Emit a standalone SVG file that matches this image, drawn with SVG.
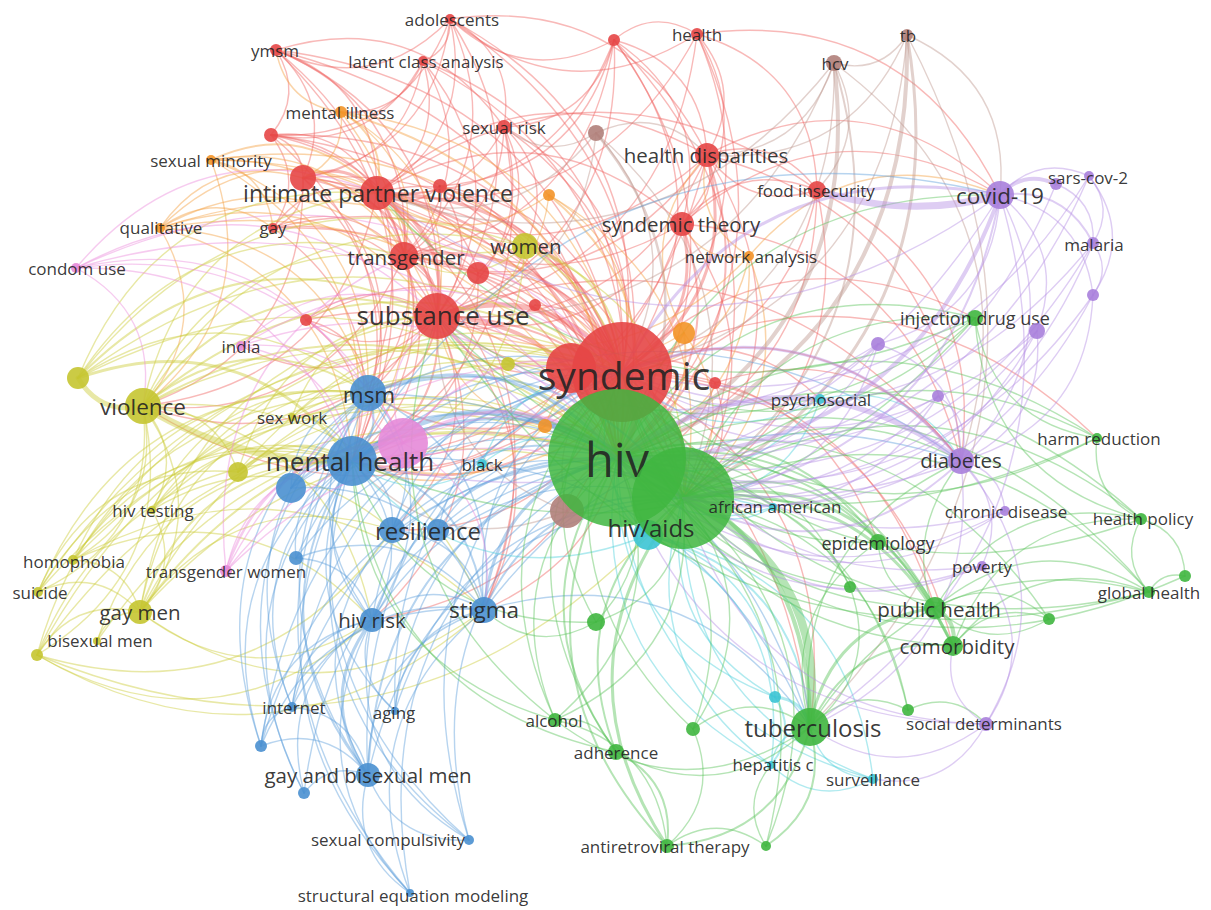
<svg xmlns="http://www.w3.org/2000/svg" width="1211" height="910" viewBox="0 0 1211 910">
<defs>
<path id="k" d="M0 0Q.5 -.36 1 0" fill="none" vector-effect="non-scaling-stroke"/>
<path id="k2" d="M0 0Q.5 -.15 1 0" fill="none" vector-effect="non-scaling-stroke"/>
</defs>
<style>
#edges{fill:none;stroke-opacity:.45;stroke-linecap:round}
.er{stroke:#ef6461}.eo{stroke:#f5a040}.en{stroke:#bf9a90}.ey{stroke:#cccc3a}
.eb{stroke:#5f9fdc}.ek{stroke:#ea8bdc}.ec{stroke:#4fd0dc}.eg{stroke:#5cc45c}.ep{stroke:#b590e4}
.nr{fill:#e64646}.ng{fill:#3fb63f}.nb{fill:#4a90d0}.ny{fill:#c5c531}.np{fill:#a880dc}
.nc{fill:#3cc4d4}.no{fill:#f39428}.nn{fill:#b07f7a}.nk{fill:#e589d8}
text{font-family:"Open Sans","Liberation Sans",sans-serif;fill:#222;text-anchor:middle;dominant-baseline:central}
.l17{font-size:17px}.l18{font-size:18px}.l20{font-size:20.5px}.l22{font-size:22.5px}.l24{font-size:24px}.l26{font-size:26px}.l39{font-size:39px}.l47{font-size:47px}
</style>
<rect width="1211" height="910" fill="#fff"/>
<g id="edges" stroke-width="1.4">
<g class="er">
<use href="#k" transform="matrix(101 143 -143 101 276 50)"/><use href="#k" transform="matrix(161 266 -266 161 276 50)"/><use href="#k" transform="matrix(346 322 -322 346 276 50)"/><use href="#k" transform="matrix(128 206 -206 128 276 50)"/><use href="#k" transform="matrix(27 128 -128 27 276 50)"/><use href="#k" transform="matrix(-5 85 -85 -5 276 50)"/><use href="#k" transform="matrix(341 408 -408 341 276 50)"/><use href="#k" transform="matrix(76 411 -411 76 276 50)"/><use href="#k" transform="matrix(92 343 -343 92 276 50)"/><use href="#k" transform="matrix(228 77 -77 228 276 50)"/>
<use href="#k" transform="matrix(-179 116 -116 -179 450 19)"/><use href="#k" transform="matrix(-73 174 -174 -73 450 19)"/><use href="#k" transform="matrix(-13 297 -297 -13 450 19)"/><use href="#k" transform="matrix(-46 237 -237 -46 450 19)"/><use href="#k" transform="matrix(172 353 -353 172 450 19)"/><use href="#k" transform="matrix(167 439 -439 167 450 19)"/><use href="#k" transform="matrix(-27 42 -42 -27 450 19)"/><use href="#k" transform="matrix(54 108 -108 54 450 19)"/><use href="#k" transform="matrix(257 136 -136 257 450 19)"/><use href="#k" transform="matrix(-147 159 -159 -147 450 19)"/><use href="#k" transform="matrix(-174 31 -31 -174 450 19)"/>
<use href="#k" transform="matrix(-46 132 -132 -46 423 61)"/><use href="#k" transform="matrix(14 255 -255 14 423 61)"/><use href="#k" transform="matrix(199 311 -311 199 423 61)"/><use href="#k" transform="matrix(-19 195 -195 -19 423 61)"/><use href="#k" transform="matrix(194 397 -397 194 423 61)"/><use href="#k" transform="matrix(-120 117 -117 -120 423 61)"/><use href="#k" transform="matrix(-82 51 -51 -82 423 61)"/><use href="#k" transform="matrix(-152 74 -74 -152 423 61)"/>
<use href="#k" transform="matrix(-177 276 -276 -177 614 40)"/><use href="#k" transform="matrix(-237 153 -153 -237 614 40)"/><use href="#k" transform="matrix(8 332 -332 8 614 40)"/><use href="#k" transform="matrix(93 115 -115 93 614 40)"/><use href="#k" transform="matrix(68 184 -184 68 614 40)"/><use href="#k" transform="matrix(-110 87 -87 -110 614 40)"/><use href="#k" transform="matrix(3 418 -418 3 614 40)"/><use href="#k" transform="matrix(83 -6 6 83 614 40)"/><use href="#k" transform="matrix(-210 216 -216 -210 614 40)"/><use href="#k" transform="matrix(-174 146 -146 -174 614 40)"/><use href="#k" transform="matrix(69 458 -458 69 614 40)"/><use href="#k" transform="matrix(-164 -21 21 -164 614 40)"/>
<use href="#k" transform="matrix(10 121 -121 10 697 34)"/><use href="#k" transform="matrix(-15 190 -190 -15 697 34)"/><use href="#k" transform="matrix(-75 338 -338 -75 697 34)"/><use href="#k" transform="matrix(-80 424 -424 -80 697 34)"/><use href="#k" transform="matrix(-260 282 -282 -260 697 34)"/><use href="#k" transform="matrix(120 156 -156 120 697 34)"/><use href="#k" transform="matrix(-320 159 -159 -320 697 34)"/><use href="#k" transform="matrix(303 161 -161 303 697 34)"/><use href="#k" transform="matrix(-247 -15 15 -247 697 34)"/>
<use href="#k" transform="matrix(-127 66 -66 -127 504 127)"/><use href="#k" transform="matrix(-67 189 -189 -67 504 127)"/><use href="#k" transform="matrix(118 245 -245 118 504 127)"/><use href="#k" transform="matrix(113 331 -331 113 504 127)"/><use href="#k" transform="matrix(-100 129 -129 -100 504 127)"/><use href="#k" transform="matrix(-26 146 -146 -26 504 127)"/><use href="#k" transform="matrix(21 119 -119 21 504 127)"/><use href="#k" transform="matrix(-152 334 -334 -152 504 127)"/>
<use href="#k" transform="matrix(106 58 -58 106 271 135)"/><use href="#k" transform="matrix(166 181 -181 166 271 135)"/><use href="#k" transform="matrix(133 121 -121 133 271 135)"/><use href="#k" transform="matrix(351 237 -237 351 271 135)"/><use href="#k" transform="matrix(81 326 -326 81 271 135)"/><use href="#k" transform="matrix(2 93 -93 2 271 135)"/><use href="#k" transform="matrix(32 43 -43 32 271 135)"/><use href="#k" transform="matrix(346 323 -323 346 271 135)"/>
<use href="#k" stroke-width="3" transform="matrix(74 15 -15 74 303 178)"/><use href="#k" stroke-width="2" transform="matrix(134 138 -138 134 303 178)"/><use href="#k" transform="matrix(101 78 -78 101 303 178)"/><use href="#k" transform="matrix(319 194 -194 319 303 178)"/><use href="#k" transform="matrix(314 280 -280 314 303 178)"/><use href="#k" transform="matrix(49 283 -283 49 303 178)"/><use href="#k" transform="matrix(65 215 -215 65 303 178)"/><use href="#k" transform="matrix(-30 50 -50 -30 303 178)"/><use href="#k" transform="matrix(-160 228 -228 -160 303 178)"/>
<use href="#k" stroke-width="4" transform="matrix(60 123 -123 60 377 193)"/><use href="#k" stroke-width="3" transform="matrix(245 179 -179 245 377 193)"/><use href="#k" stroke-width="2.5" transform="matrix(240 265 -265 240 377 193)"/><use href="#k" stroke-width="3" transform="matrix(27 63 -63 27 377 193)"/><use href="#k" transform="matrix(-25 268 -268 -25 377 193)"/><use href="#k" transform="matrix(-9 200 -200 -9 377 193)"/><use href="#k" transform="matrix(-234 213 -213 -234 377 193)"/><use href="#k" transform="matrix(148 53 -53 148 377 193)"/><use href="#k" transform="matrix(101 80 -80 101 377 193)"/><use href="#k" transform="matrix(107 417 -417 107 377 193)"/><use href="#k" transform="matrix(306 305 -305 306 377 193)"/><use href="#k" transform="matrix(330 -38 38 330 377 193)"/><use href="#k" transform="matrix(305 31 -31 305 377 193)"/><use href="#k" transform="matrix(440 -3 3 440 377 193)"/>
<use href="#k" stroke-width="3" transform="matrix(33 60 -60 33 404 256)"/><use href="#k" stroke-width="3" transform="matrix(218 116 -116 218 404 256)"/><use href="#k" stroke-width="2" transform="matrix(213 202 -202 213 404 256)"/><use href="#k" transform="matrix(-52 205 -205 -52 404 256)"/><use href="#k" transform="matrix(-36 137 -137 -36 404 256)"/><use href="#k" transform="matrix(-261 150 -150 -261 404 256)"/><use href="#k" transform="matrix(74 17 -17 74 404 256)"/><use href="#k" transform="matrix(279 242 -242 279 404 256)"/><use href="#k" transform="matrix(80 354 -354 80 404 256)"/>
<use href="#k" stroke-width="5" transform="matrix(185 56 -56 185 437 316)"/><use href="#k" stroke-width="4" transform="matrix(180 142 -142 180 437 316)"/><use href="#k" stroke-width="2" transform="matrix(246 182 -182 246 437 316)"/><use href="#k" stroke-width="2" transform="matrix(-85 145 -145 -85 437 316)"/><use href="#k" stroke-width="2" transform="matrix(-69 77 -77 -69 437 316)"/><use href="#k" transform="matrix(-294 90 -90 -294 437 316)"/><use href="#k" transform="matrix(47 294 -294 47 437 316)"/><use href="#k" transform="matrix(-45 214 -214 -45 437 316)"/><use href="#k" transform="matrix(-65 304 -304 -65 437 316)"/><use href="#k" transform="matrix(373 411 -411 373 437 316)"/><use href="#k" transform="matrix(524 145 -145 524 437 316)"/><use href="#k" transform="matrix(-131 4 -4 -131 437 316)"/><use href="#k" transform="matrix(-196 30 -30 -196 437 316)"/>
<use href="#k" stroke-width="3" transform="matrix(-85 217 -217 -85 707 155)"/><use href="#k" stroke-width="2" transform="matrix(-90 303 -303 -90 707 155)"/><use href="#k" transform="matrix(-24 343 -343 -24 707 155)"/><use href="#k" transform="matrix(-270 161 -161 -270 707 155)"/><use href="#k" transform="matrix(-330 38 -38 -330 707 155)"/><use href="#k" transform="matrix(-25 69 -69 -25 707 155)"/><use href="#k" transform="matrix(110 35 -35 110 707 155)"/><use href="#k" transform="matrix(293 40 -40 293 707 155)"/><use href="#k" transform="matrix(254 306 -306 254 707 155)"/><use href="#k" transform="matrix(-303 101 -101 -303 707 155)"/><use href="#k" transform="matrix(-355 306 -306 -355 707 155)"/>
<use href="#k" stroke-width="3" transform="matrix(-60 148 -148 -60 682 224)"/><use href="#k" stroke-width="2" transform="matrix(-65 234 -234 -65 682 224)"/><use href="#k" transform="matrix(1 274 -274 1 682 224)"/><use href="#k" transform="matrix(-245 92 -92 -245 682 224)"/><use href="#k" transform="matrix(135 -34 34 135 682 224)"/><use href="#k" transform="matrix(318 -29 29 318 682 224)"/><use href="#k" transform="matrix(279 237 -237 279 682 224)"/><use href="#k" transform="matrix(-330 237 -237 -330 682 224)"/><use href="#k" transform="matrix(-305 -31 31 -305 682 224)"/>
<use href="#k" transform="matrix(-195 182 -182 -195 817 190)"/><use href="#k" transform="matrix(-200 268 -268 -200 817 190)"/><use href="#k" transform="matrix(-134 308 -308 -134 817 190)"/><use href="#k" transform="matrix(144 271 -271 144 817 190)"/><use href="#k" transform="matrix(-110 -35 35 -110 817 190)"/>
<use href="#k" transform="matrix(104 -35 35 104 273 228)"/><use href="#k" transform="matrix(164 88 -88 164 273 228)"/><use href="#k" transform="matrix(349 144 -144 349 273 228)"/><use href="#k" transform="matrix(79 233 -233 79 273 228)"/><use href="#k" transform="matrix(131 28 -28 131 273 228)"/><use href="#k" transform="matrix(344 230 -230 344 273 228)"/>
<use href="#k" transform="matrix(144 99 -99 144 478 273)"/><use href="#k" transform="matrix(139 185 -185 139 478 273)"/><use href="#k" transform="matrix(-41 43 -43 -41 478 273)"/><use href="#k" transform="matrix(-126 188 -188 -126 478 273)"/>
<use href="#k" stroke-width="6" transform="matrix(-5 86 -86 -5 622 372)"/><use href="#k" stroke-width="3" transform="matrix(61 126 -126 61 622 372)"/><use href="#k" stroke-width="2" transform="matrix(-270 89 -89 -270 622 372)"/><use href="#k" stroke-width="2" transform="matrix(-254 21 -21 -254 622 372)"/><use href="#k" transform="matrix(-479 34 -34 -479 622 372)"/><use href="#k" transform="matrix(-138 238 -238 -138 622 372)"/><use href="#k" transform="matrix(188 355 -355 188 622 372)"/><use href="#k" transform="matrix(339 89 -89 339 622 372)"/><use href="#k" transform="matrix(353 -54 54 353 622 372)"/><use href="#k" transform="matrix(198 27 -27 198 622 372)"/><use href="#k" transform="matrix(-250 248 -248 -250 622 372)"/><use href="#k" transform="matrix(-230 158 -158 -230 622 372)"/><use href="#k" transform="matrix(93 11 -11 93 622 372)"/><use href="#k" transform="matrix(475 66 -66 475 622 372)"/><use href="#k" transform="matrix(313 236 -236 313 622 372)"/><use href="#k" transform="matrix(331 274 -274 331 622 372)"/><use href="#k" transform="matrix(256 170 -170 256 622 372)"/>
<use href="#k" transform="matrix(131 -4 4 131 306 320)"/><use href="#k" transform="matrix(316 52 -52 316 306 320)"/><use href="#k" transform="matrix(311 138 -138 311 306 320)"/><use href="#k" transform="matrix(46 141 -141 46 306 320)"/><use href="#k" transform="matrix(62 73 -73 62 306 320)"/>
<use href="#k" transform="matrix(-98 75 -75 -98 715 383)"/><use href="#k" transform="matrix(-32 115 -115 -32 715 383)"/><use href="#k" transform="matrix(246 78 -78 246 715 383)"/>
<use href="#k" transform="matrix(-3 130 -130 -3 440 186)"/><use href="#k" transform="matrix(182 186 -186 182 440 186)"/><use href="#k" transform="matrix(177 272 -272 177 440 186)"/><use href="#k" transform="matrix(-36 70 -70 -36 440 186)"/><use href="#k" transform="matrix(-63 7 -7 -63 440 186)"/>
<use href="#k" transform="matrix(87 67 -67 87 535 305)"/><use href="#k" transform="matrix(82 153 -153 82 535 305)"/><use href="#k" transform="matrix(-98 11 -11 -98 535 305)"/>
<use href="#k" transform="matrix(46 90 -90 46 571 368)"/><use href="#k" transform="matrix(-134 -52 52 -134 571 368)"/><use href="#k" transform="matrix(-219 93 -93 -219 571 368)"/>
</g>
<g class="eo">
<use href="#k" stroke-width="2" transform="matrix(36 81 -81 36 341 112)"/><use href="#k" transform="matrix(96 204 -204 96 341 112)"/><use href="#k" transform="matrix(281 260 -260 281 341 112)"/><use href="#k" stroke-width="2" transform="matrix(276 346 -346 276 341 112)"/><use href="#k" transform="matrix(63 144 -144 63 341 112)"/><use href="#k" transform="matrix(11 349 -349 11 341 112)"/><use href="#k" transform="matrix(-38 66 -66 -38 341 112)"/><use href="#k" transform="matrix(-65 -62 62 -65 341 112)"/>
<use href="#k" stroke-width="2" transform="matrix(166 33 -33 166 211 160)"/><use href="#k" transform="matrix(226 156 -156 226 211 160)"/><use href="#k" transform="matrix(411 212 -212 411 211 160)"/><use href="#k" transform="matrix(406 298 -298 406 211 160)"/><use href="#k" transform="matrix(141 301 -301 141 211 160)"/><use href="#k" transform="matrix(193 96 -96 193 211 160)"/><use href="#k" transform="matrix(62 68 -68 62 211 160)"/><use href="#k" transform="matrix(-68 246 -246 -68 211 160)"/><use href="#k" transform="matrix(157 233 -233 157 211 160)"/>
<use href="#k" transform="matrix(217 -35 35 217 160 228)"/><use href="#k" transform="matrix(277 88 -88 277 160 228)"/><use href="#k" transform="matrix(462 144 -144 462 160 228)"/><use href="#k" transform="matrix(457 230 -230 457 160 228)"/><use href="#k" transform="matrix(192 233 -233 192 160 228)"/><use href="#k" transform="matrix(-17 178 -178 -17 160 228)"/><use href="#k" transform="matrix(113 0 0 113 160 228)"/><use href="#k" transform="matrix(244 28 -28 244 160 228)"/><use href="#k" transform="matrix(208 165 -165 208 160 228)"/><use href="#k" transform="matrix(143 -50 50 143 160 228)"/>
<use href="#k" transform="matrix(73 177 -177 73 549 195)"/><use href="#k" stroke-width="2" transform="matrix(68 263 -263 68 549 195)"/><use href="#k" transform="matrix(-112 121 -121 -112 549 195)"/><use href="#k" transform="matrix(-172 -2 2 -172 549 195)"/><use href="#k" transform="matrix(134 303 -303 134 549 195)"/>
<use href="#k" transform="matrix(-127 116 -116 -127 749 256)"/><use href="#k" transform="matrix(-132 202 -202 -132 749 256)"/><use href="#k" transform="matrix(-66 242 -242 -66 749 256)"/><use href="#k" transform="matrix(-67 -32 32 -67 749 256)"/><use href="#k" transform="matrix(-42 -101 101 -42 749 256)"/><use href="#k" transform="matrix(251 -61 61 251 749 256)"/><use href="#k" transform="matrix(-312 60 -60 -312 749 256)"/>
<use href="#k" transform="matrix(-62 39 -39 -62 684 333)"/><use href="#k" stroke-width="2" transform="matrix(-67 125 -125 -67 684 333)"/><use href="#k" transform="matrix(-1 165 -165 -1 684 333)"/><use href="#k" transform="matrix(-247 -17 17 -247 684 333)"/><use href="#k" transform="matrix(23 -178 178 23 684 333)"/><use href="#k" transform="matrix(-332 128 -128 -332 684 333)"/>
<use href="#k" transform="matrix(72 32 -32 72 545 426)"/><use href="#k" transform="matrix(77 -54 54 77 545 426)"/><use href="#k" transform="matrix(-108 -110 110 -108 545 426)"/><use href="#k" transform="matrix(-193 35 -35 -193 545 426)"/>
</g>
<g class="en">
<use href="#k" stroke-width="4" transform="matrix(-290 423 -423 -290 907 35)"/><use href="#k" stroke-width="3" transform="matrix(-224 463 -463 -224 907 35)"/><use href="#k" transform="matrix(-285 337 -337 -285 907 35)"/><use href="#k" transform="matrix(-73 28 -28 -73 907 35)"/><use href="#k" transform="matrix(-200 120 -120 -200 907 35)"/><use href="#k" transform="matrix(93 160 -160 93 907 35)"/><use href="#k" transform="matrix(-97 692 -692 -97 907 35)"/>
<use href="#k" stroke-width="4" transform="matrix(-217 395 -395 -217 834 63)"/><use href="#k" stroke-width="2" transform="matrix(-151 435 -435 -151 834 63)"/><use href="#k" transform="matrix(-212 309 -309 -212 834 63)"/><use href="#k" transform="matrix(-397 253 -253 -397 834 63)"/><use href="#k" transform="matrix(-457 130 -130 -457 834 63)"/><use href="#k" transform="matrix(-17 127 -127 -17 834 63)"/><use href="#k" transform="matrix(127 398 -398 127 834 63)"/><use href="#k" transform="matrix(-127 92 -92 -127 834 63)"/>
<use href="#k" stroke-width="2.5" transform="matrix(21 325 -325 21 596 133)"/><use href="#k" transform="matrix(26 239 -239 26 596 133)"/><use href="#k" transform="matrix(-159 183 -183 -159 596 133)"/><use href="#k" transform="matrix(-219 60 -60 -219 596 133)"/><use href="#k" transform="matrix(87 365 -365 87 596 133)"/><use href="#k" transform="matrix(111 22 -22 111 596 133)"/><use href="#k" transform="matrix(-92 -6 6 -92 596 133)"/>
<use href="#k" transform="matrix(50 -53 53 50 567 511)"/><use href="#k" transform="matrix(55 -139 139 55 567 511)"/><use href="#k" transform="matrix(-130 -195 195 -130 567 511)"/><use href="#k" transform="matrix(-215 -50 50 -215 567 511)"/>
</g>
<g class="ey">
<use href="#k2" stroke-width="7" transform="matrix(-209 -55 55 -209 352 461)"/>
<use href="#k" stroke-width="2" transform="matrix(225 -13 13 225 143 406)"/><use href="#k" stroke-width="2" transform="matrix(479 -34 34 479 143 406)"/><use href="#k" stroke-width="2" transform="matrix(474 52 -52 474 143 406)"/><use href="#k" stroke-width="2" transform="matrix(294 -90 90 294 143 406)"/><use href="#k" transform="matrix(234 -213 213 234 143 406)"/><use href="#k" transform="matrix(261 -150 150 261 143 406)"/><use href="#k" transform="matrix(382 -160 160 382 143 406)"/><use href="#k" stroke-width="5" transform="matrix(-65 -28 28 -65 143 406)"/><use href="#k" transform="matrix(-3 206 -206 -3 143 406)"/><use href="#k" transform="matrix(-70 154 -154 -70 143 406)"/><use href="#k" transform="matrix(-105 186 -186 -105 143 406)"/><use href="#k" transform="matrix(9 104 -104 9 143 406)"/><use href="#k" transform="matrix(-106 249 -249 -106 143 406)"/><use href="#k" transform="matrix(95 66 -66 95 143 406)"/><use href="#k" transform="matrix(341 204 -204 341 143 406)"/><use href="#k" transform="matrix(540 92 -92 540 143 406)"/><use href="#k" transform="matrix(229 214 -214 229 143 406)"/>
<use href="#k" stroke-width="3" transform="matrix(274 83 -83 274 78 378)"/><use href="#k" stroke-width="2" transform="matrix(359 -62 62 359 78 378)"/><use href="#k" transform="matrix(544 -6 6 544 78 378)"/><use href="#k" transform="matrix(539 80 -80 539 78 378)"/><use href="#k" transform="matrix(290 15 -15 290 78 378)"/><use href="#k" transform="matrix(299 -185 185 299 78 378)"/><use href="#k" transform="matrix(326 -122 122 326 78 378)"/><use href="#k" transform="matrix(447 -132 132 447 78 378)"/>
<use href="#k" stroke-width="2" transform="matrix(97 126 -126 97 525 246)"/><use href="#k" stroke-width="2" transform="matrix(92 212 -212 92 525 246)"/><use href="#k" transform="matrix(-88 70 -70 -88 525 246)"/><use href="#k" transform="matrix(-148 -53 53 -148 525 246)"/><use href="#k" transform="matrix(-121 10 -10 -121 525 246)"/><use href="#k" transform="matrix(-173 215 -215 -173 525 246)"/><use href="#k" transform="matrix(158 252 -252 158 525 246)"/>
<use href="#k" transform="matrix(60 44 -44 60 292 417)"/><use href="#k" transform="matrix(330 -45 45 330 292 417)"/><use href="#k" transform="matrix(325 41 -41 325 292 417)"/><use href="#k" transform="matrix(145 -101 101 145 292 417)"/>
<use href="#k" stroke-width="2" transform="matrix(114 -11 11 114 238 472)"/><use href="#k" transform="matrix(384 -100 100 384 238 472)"/><use href="#k" transform="matrix(379 -14 14 379 238 472)"/><use href="#k" transform="matrix(199 -156 156 199 238 472)"/><use href="#k" transform="matrix(445 26 -26 445 238 472)"/>
<use href="#k" transform="matrix(200 -49 49 200 152 510)"/><use href="#k" transform="matrix(470 -138 138 470 152 510)"/><use href="#k" transform="matrix(465 -52 52 465 152 510)"/><use href="#k" transform="matrix(216 -117 117 216 152 510)"/><use href="#k" transform="matrix(240 20 -20 240 152 510)"/><use href="#k" transform="matrix(-12 102 -102 -12 152 510)"/>
<use href="#k" transform="matrix(279 -99 99 279 73 560)"/><use href="#k" transform="matrix(544 -102 102 544 73 560)"/><use href="#k" transform="matrix(549 -188 188 549 73 560)"/><use href="#k" transform="matrix(295 -167 167 295 73 560)"/><use href="#k" transform="matrix(67 52 -52 67 73 560)"/><use href="#k" transform="matrix(411 50 -50 411 73 560)"/><use href="#k" transform="matrix(299 60 -60 299 73 560)"/>
<use href="#k" transform="matrix(314 -131 131 314 38 592)"/><use href="#k" transform="matrix(579 -134 134 579 38 592)"/><use href="#k" transform="matrix(584 -220 220 584 38 592)"/><use href="#k" transform="matrix(102 20 -20 102 38 592)"/><use href="#k" transform="matrix(330 -199 199 330 38 592)"/><use href="#k" transform="matrix(200 -120 120 200 38 592)"/>
<use href="#k" stroke-width="2" transform="matrix(212 -151 151 212 140 612)"/><use href="#k" stroke-width="2" transform="matrix(477 -154 154 477 140 612)"/><use href="#k" transform="matrix(482 -240 240 482 140 612)"/><use href="#k" transform="matrix(228 -219 219 228 140 612)"/><use href="#k" transform="matrix(-232 -8 8 -232 372 620)"/><use href="#k" transform="matrix(-344 2 -2 -344 484 610)"/><use href="#k" transform="matrix(252 -82 82 252 140 612)"/><use href="#k" transform="matrix(543 -114 114 543 140 612)"/><use href="#k" transform="matrix(297 -296 296 297 140 612)"/>
<use href="#k" transform="matrix(43 -29 29 43 97 641)"/><use href="#k" transform="matrix(255 -180 180 255 97 641)"/><use href="#k" transform="matrix(520 -183 183 520 97 641)"/>
<use href="#k" transform="matrix(-335 35 -35 -335 372 620)"/><use href="#k" transform="matrix(-447 45 -45 -447 484 610)"/><use href="#k" transform="matrix(-646 157 -157 -646 683 498)"/><use href="#k" transform="matrix(-355 125 -125 -355 392 530)"/><use href="#k" transform="matrix(103 -43 43 103 37 655)"/><use href="#k" transform="matrix(315 -194 194 315 37 655)"/><use href="#k" transform="matrix(580 -197 197 580 37 655)"/><use href="#k" transform="matrix(585 -283 283 585 37 655)"/><use href="#k" transform="matrix(331 -262 262 331 37 655)"/>
<use href="#k" transform="matrix(109 94 -94 109 508 364)"/><use href="#k" transform="matrix(114 8 -8 114 508 364)"/><use href="#k" transform="matrix(-71 -48 48 -71 508 364)"/>
</g>
<g class="eb">
<use href="#k" stroke-width="3" transform="matrix(249 65 -65 249 368 393)"/><use href="#k" stroke-width="2" transform="matrix(315 105 -105 315 368 393)"/><use href="#k" stroke-width="2" transform="matrix(-16 68 -68 -16 368 393)"/><use href="#k" transform="matrix(24 137 -137 24 368 393)"/><use href="#k" transform="matrix(116 217 -217 116 368 393)"/><use href="#k" transform="matrix(4 227 -227 4 368 393)"/><use href="#k" transform="matrix(442 334 -334 442 368 393)"/>
<use href="#k" stroke-width="5" transform="matrix(265 -3 3 265 352 461)"/><use href="#k" stroke-width="3" transform="matrix(331 37 -37 331 352 461)"/><use href="#k" transform="matrix(40 69 -69 40 352 461)"/><use href="#k" stroke-width="2" transform="matrix(132 149 -149 132 352 461)"/><use href="#k" transform="matrix(20 159 -159 20 352 461)"/><use href="#k" transform="matrix(609 0 0 609 352 461)"/><use href="#k" transform="matrix(458 266 -266 458 352 461)"/><use href="#k" transform="matrix(648 -266 266 648 352 461)"/>
<use href="#k" stroke-width="2" transform="matrix(326 -30 30 326 291 488)"/><use href="#k" transform="matrix(331 -116 116 331 291 488)"/><use href="#k" transform="matrix(61 -27 27 61 291 488)"/><use href="#k" transform="matrix(77 -95 95 77 291 488)"/><use href="#k" transform="matrix(193 122 -122 193 291 488)"/><use href="#k" transform="matrix(392 10 -10 392 291 488)"/>
<use href="#k" stroke-width="2" transform="matrix(225 -72 72 225 392 530)"/><use href="#k" transform="matrix(230 -158 158 230 392 530)"/><use href="#k" transform="matrix(291 -32 32 291 392 530)"/><use href="#k" transform="matrix(92 80 -80 92 392 530)"/>
<use href="#k" transform="matrix(179 -72 72 179 438 530)"/><use href="#k" transform="matrix(245 -32 32 245 438 530)"/><use href="#k" transform="matrix(184 -158 158 184 438 530)"/>
<use href="#k" transform="matrix(56 -97 97 56 296 558)"/><use href="#k" transform="matrix(321 -100 100 321 296 558)"/><use href="#k" transform="matrix(326 -186 186 326 296 558)"/><use href="#k" transform="matrix(76 62 -62 76 296 558)"/><use href="#k" transform="matrix(188 52 -52 188 296 558)"/>
<use href="#k" stroke-width="3" transform="matrix(133 -152 152 133 484 610)"/><use href="#k" stroke-width="2" transform="matrix(199 -112 112 199 484 610)"/><use href="#k" transform="matrix(138 -238 238 138 484 610)"/><use href="#k" transform="matrix(326 117 -117 326 484 610)"/><use href="#k" transform="matrix(477 -149 149 477 484 610)"/>
<use href="#k" stroke-width="2" transform="matrix(245 -162 162 245 372 620)"/><use href="#k" transform="matrix(311 -122 122 311 372 620)"/><use href="#k" transform="matrix(250 -248 248 250 372 620)"/><use href="#k" transform="matrix(-20 -159 159 -20 372 620)"/><use href="#k" transform="matrix(-4 -227 227 -4 372 620)"/><use href="#k" transform="matrix(112 -10 10 112 372 620)"/>
<use href="#k" transform="matrix(80 -87 87 80 292 707)"/><use href="#k" transform="matrix(60 -246 246 60 292 707)"/><use href="#k" transform="matrix(76 -314 314 76 292 707)"/><use href="#k" transform="matrix(325 -249 249 325 292 707)"/><use href="#k" transform="matrix(330 -335 335 330 292 707)"/><use href="#k" transform="matrix(76 68 -68 76 292 707)"/><use href="#k" transform="matrix(192 -97 97 192 292 707)"/>
<use href="#k" transform="matrix(222 -253 253 222 395 711)"/><use href="#k" transform="matrix(288 -213 213 288 395 711)"/><use href="#k" transform="matrix(227 -339 339 227 395 711)"/><use href="#k" transform="matrix(-43 -250 250 -43 395 711)"/><use href="#k" transform="matrix(89 -101 101 89 395 711)"/><use href="#k" transform="matrix(-23 -91 91 -23 395 711)"/>
<use href="#k" transform="matrix(111 -126 126 111 261 746)"/><use href="#k" transform="matrix(91 -285 285 91 261 746)"/><use href="#k" transform="matrix(107 -353 353 107 261 746)"/><use href="#k" transform="matrix(356 -288 288 356 261 746)"/><use href="#k" transform="matrix(361 -374 374 361 261 746)"/><use href="#k" transform="matrix(223 -136 136 223 261 746)"/><use href="#k" transform="matrix(107 29 -29 107 261 746)"/><use href="#k" transform="matrix(31 -39 39 31 261 746)"/>
<use href="#k" stroke-width="3" transform="matrix(4 -155 155 4 368 775)"/><use href="#k" stroke-width="2" transform="matrix(-16 -314 314 -16 368 775)"/><use href="#k" transform="matrix(0 -382 382 0 368 775)"/><use href="#k" stroke-width="2" transform="matrix(249 -317 317 249 368 775)"/><use href="#k" transform="matrix(254 -403 403 254 368 775)"/><use href="#k" transform="matrix(315 -277 277 315 368 775)"/><use href="#k" transform="matrix(116 -165 165 116 368 775)"/><use href="#k" transform="matrix(24 -245 245 24 368 775)"/>
<use href="#k" transform="matrix(64 -18 18 64 304 793)"/><use href="#k" transform="matrix(68 -173 173 68 304 793)"/><use href="#k" transform="matrix(48 -332 332 48 304 793)"/><use href="#k" transform="matrix(64 -400 400 64 304 793)"/><use href="#k" transform="matrix(313 -335 335 313 304 793)"/>
<use href="#k" transform="matrix(-101 -65 65 -101 469 840)"/><use href="#k" transform="matrix(-97 -220 220 -97 469 840)"/><use href="#k" transform="matrix(-117 -379 379 -117 469 840)"/><use href="#k" transform="matrix(-101 -447 447 -101 469 840)"/><use href="#k" transform="matrix(148 -382 382 148 469 840)"/><use href="#k" transform="matrix(153 -468 468 153 469 840)"/>
<use href="#k" transform="matrix(-42 -118 118 -42 410 893)"/><use href="#k" transform="matrix(-38 -273 273 -38 410 893)"/><use href="#k" transform="matrix(-58 -432 432 -58 410 893)"/><use href="#k" transform="matrix(207 -435 435 207 410 893)"/><use href="#k" transform="matrix(74 -283 283 74 410 893)"/><use href="#k" transform="matrix(-42 -500 500 -42 410 893)"/>
</g>
<g class="ek">
<use href="#k" stroke-width="3" transform="matrix(214 15 -15 214 403 443)"/><use href="#k" stroke-width="2" transform="matrix(219 -71 71 219 403 443)"/><use href="#k" transform="matrix(-51 18 -18 -51 403 443)"/><use href="#k" transform="matrix(-35 -50 50 -35 403 443)"/><use href="#k" transform="matrix(34 -127 127 34 403 443)"/><use href="#k" transform="matrix(280 55 -55 280 403 443)"/><use href="#k" transform="matrix(81 167 -167 81 403 443)"/>
<use href="#k" transform="matrix(546 104 -104 546 76 268)"/><use href="#k" transform="matrix(541 190 -190 541 76 268)"/><use href="#k" transform="matrix(276 193 -193 276 76 268)"/><use href="#k" transform="matrix(292 125 -125 292 76 268)"/><use href="#k" transform="matrix(361 48 -48 361 76 268)"/><use href="#k" transform="matrix(301 -75 75 301 76 268)"/><use href="#k" transform="matrix(327 175 -175 327 76 268)"/><use href="#k" transform="matrix(67 138 -138 67 76 268)"/>
<use href="#k" transform="matrix(381 26 -26 381 241 346)"/><use href="#k" transform="matrix(376 112 -112 376 241 346)"/><use href="#k" transform="matrix(111 115 -115 111 241 346)"/><use href="#k" transform="matrix(196 -30 30 196 241 346)"/><use href="#k" transform="matrix(162 97 -97 162 241 346)"/>
<use href="#k" stroke-width="2.5" transform="matrix(177 -128 128 177 226 571)"/><use href="#k" transform="matrix(391 -113 113 391 226 571)"/><use href="#k" transform="matrix(396 -199 199 396 226 571)"/><use href="#k" transform="matrix(126 -110 110 126 226 571)"/><use href="#k" transform="matrix(178 -315 315 178 226 571)"/><use href="#k" transform="matrix(457 -73 73 457 226 571)"/>
</g>
<g class="ec">
<use href="#k" transform="matrix(135 -6 6 135 482 464)"/><use href="#k" transform="matrix(140 -92 92 140 482 464)"/><use href="#k" transform="matrix(-130 -3 3 -130 482 464)"/>
<use href="#k" transform="matrix(-203 59 -59 -203 820 399)"/><use href="#k" transform="matrix(-198 -27 27 -198 820 399)"/><use href="#k" transform="matrix(-137 99 -99 -137 820 399)"/><use href="#k" transform="matrix(141 62 -62 141 820 399)"/>
<use href="#k" transform="matrix(-31 -77 77 -31 648 535)"/><use href="#k" transform="matrix(-26 -163 163 -26 648 535)"/><use href="#k" stroke-width="2" transform="matrix(162 192 -192 162 648 535)"/><use href="#k" transform="matrix(225 244 -244 225 648 535)"/><use href="#k" transform="matrix(123 230 -230 123 648 535)"/><use href="#k" transform="matrix(127 162 -162 127 648 535)"/><use href="#k" transform="matrix(-296 -74 74 -296 648 535)"/>
<use href="#k" transform="matrix(-156 -49 49 -156 773 507)"/><use href="#k" transform="matrix(-90 -9 9 -90 773 507)"/><use href="#k" transform="matrix(-151 -135 135 -151 773 507)"/>
<use href="#k" transform="matrix(-158 -239 239 -158 775 697)"/><use href="#k" transform="matrix(-92 -199 199 -92 775 697)"/><use href="#k" stroke-width="3" transform="matrix(35 30 -30 35 775 697)"/><use href="#k" stroke-width="2" transform="matrix(-4 68 -68 -4 775 697)"/>
<use href="#k" transform="matrix(-154 -307 307 -154 771 765)"/><use href="#k" transform="matrix(-88 -267 267 -88 771 765)"/><use href="#k" transform="matrix(39 -38 38 39 771 765)"/>
<use href="#k" transform="matrix(-256 -321 321 -256 873 779)"/><use href="#k" transform="matrix(-190 -281 281 -190 873 779)"/><use href="#k" transform="matrix(-63 -52 52 -63 873 779)"/><use href="#k" transform="matrix(-102 -14 14 -102 873 779)"/>
</g>
<g class="eg">
<use href="#k" stroke-width="5" transform="matrix(66 40 -40 66 617 458)"/><use href="#k" stroke-width="4" transform="matrix(193 269 -269 193 617 458)"/><use href="#k" stroke-width="2" transform="matrix(318 150 -150 318 617 458)"/><use href="#k" stroke-width="2" transform="matrix(336 188 -188 336 617 458)"/><use href="#k" stroke-width="2" transform="matrix(261 84 -84 261 617 458)"/><use href="#k" transform="matrix(532 134 -134 532 617 458)"/><use href="#k" transform="matrix(524 61 -61 524 617 458)"/><use href="#k" transform="matrix(480 -20 20 480 617 458)"/><use href="#k" transform="matrix(358 -140 140 358 617 458)"/><use href="#k" transform="matrix(291 252 -252 291 617 458)"/><use href="#k" transform="matrix(432 161 -161 432 617 458)"/><use href="#k" transform="matrix(233 129 -129 233 617 458)"/><use href="#k" transform="matrix(-21 164 -164 -21 617 458)"/><use href="#k" transform="matrix(-62 262 -262 -62 617 458)"/><use href="#k" stroke-width="2" transform="matrix(1 -294 294 1 616 752)"/><use href="#k" transform="matrix(76 271 -271 76 617 458)"/><use href="#k" stroke-width="2" transform="matrix(-50 -388 388 -50 667 846)"/><use href="#k" transform="matrix(149 388 -388 149 617 458)"/><use href="#k" transform="matrix(383 -263 263 383 617 458)"/>
<use href="#k" stroke-width="8" transform="matrix(127 229 -229 127 683 498)"/><use href="#k" stroke-width="3" transform="matrix(252 110 -110 252 683 498)"/><use href="#k" stroke-width="3" transform="matrix(270 148 -148 270 683 498)"/><use href="#k" stroke-width="2" transform="matrix(195 44 -44 195 683 498)"/><use href="#k" transform="matrix(466 94 -94 466 683 498)"/><use href="#k" transform="matrix(458 21 -21 458 683 498)"/><use href="#k" transform="matrix(414 -60 60 414 683 498)"/><use href="#k" transform="matrix(292 -180 180 292 683 498)"/><use href="#k" transform="matrix(225 212 -212 225 683 498)"/><use href="#k" stroke-width="2" transform="matrix(67 -254 254 67 616 752)"/><use href="#k" stroke-width="3" transform="matrix(16 -348 348 16 667 846)"/><use href="#k" transform="matrix(-128 222 -222 -128 683 498)"/><use href="#k" transform="matrix(167 89 -89 167 683 498)"/><use href="#k" transform="matrix(-87 124 -124 -87 683 498)"/><use href="#k" transform="matrix(10 231 -231 10 683 498)"/><use href="#k" transform="matrix(83 348 -348 83 683 498)"/><use href="#k" transform="matrix(278 -37 37 278 683 498)"/>
<use href="#k" stroke-width="3" transform="matrix(125 -119 119 125 810 727)"/><use href="#k" stroke-width="2" transform="matrix(143 -81 81 143 810 727)"/><use href="#k" transform="matrix(68 -185 185 68 810 727)"/><use href="#k" transform="matrix(339 -135 135 339 810 727)"/><use href="#k" transform="matrix(98 -17 17 98 810 727)"/><use href="#k" stroke-width="2" transform="matrix(-143 119 -119 -143 810 727)"/><use href="#k" stroke-width="2" transform="matrix(-44 119 -119 -44 810 727)"/><use href="#k" transform="matrix(-194 25 -25 -194 810 727)"/><use href="#k" transform="matrix(151 -266 266 151 810 727)"/><use href="#k" transform="matrix(-255 -7 7 -255 810 727)"/>
<use href="#k" stroke-width="4" transform="matrix(18 38 -38 18 935 608)"/><use href="#k" transform="matrix(214 -16 16 214 935 608)"/><use href="#k" transform="matrix(206 -89 89 206 935 608)"/><use href="#k" transform="matrix(114 11 -11 114 935 608)"/><use href="#k" transform="matrix(-57 -66 66 -57 935 608)"/><use href="#k" transform="matrix(-313 -236 236 -313 935 608)"/>
<use href="#k" transform="matrix(196 -54 54 196 953 646)"/><use href="#k" transform="matrix(188 -127 127 188 953 646)"/><use href="#k" transform="matrix(96 -27 27 96 953 646)"/><use href="#k" transform="matrix(-331 -274 274 -331 953 646)"/><use href="#k" transform="matrix(8 -185 185 8 953 646)"/>
<use href="#k" transform="matrix(-256 -170 170 -256 878 542)"/>
<use href="#k" transform="matrix(-8 -73 73 -8 1149 592)"/><use href="#k" transform="matrix(36 -16 16 36 1149 592)"/><use href="#k" transform="matrix(-527 -220 220 -527 1149 592)"/><use href="#k" transform="matrix(-712 -276 276 -712 1149 592)"/>
<use href="#k" transform="matrix(-44 -81 81 -44 1141 519)"/><use href="#k" transform="matrix(-519 -147 147 -519 1141 519)"/><use href="#k" transform="matrix(-166 -201 201 -166 1141 519)"/><use href="#k" transform="matrix(44 57 -57 44 1141 519)"/>
<use href="#k" transform="matrix(-475 -66 66 -475 1097 438)"/><use href="#k" transform="matrix(-122 -120 120 -122 1097 438)"/><use href="#k" transform="matrix(-660 -122 122 -660 1097 438)"/>
<use href="#k" transform="matrix(-353 54 -54 -353 975 318)"/><use href="#k" transform="matrix(-538 -2 2 -538 975 318)"/><use href="#k" transform="matrix(-598 -125 125 -598 975 318)"/><use href="#k" transform="matrix(-623 143 -143 -623 975 318)"/>
<use href="#k" transform="matrix(62 -262 262 62 555 720)"/><use href="#k" transform="matrix(67 -348 348 67 555 720)"/><use href="#k" transform="matrix(61 32 -32 61 555 720)"/><use href="#k" transform="matrix(112 126 -126 112 555 720)"/><use href="#k" transform="matrix(-118 -404 404 -118 555 720)"/><use href="#k" transform="matrix(-203 -259 259 -203 555 720)"/>
<use href="#k" transform="matrix(6 -380 380 6 616 752)"/><use href="#k" stroke-width="2" transform="matrix(51 94 -94 51 616 752)"/><use href="#k" transform="matrix(-264 -291 291 -264 616 752)"/>
<use href="#k" transform="matrix(117 -2 2 117 693 729)"/><use href="#k" transform="matrix(-26 117 -117 -26 693 729)"/><use href="#k" transform="matrix(-71 -357 357 -71 693 729)"/>
<use href="#k" transform="matrix(99 0 0 99 667 846)"/><use href="#k" transform="matrix(5 -81 81 5 766 846)"/>
<use href="#k" transform="matrix(26 -250 250 26 596 622)"/><use href="#k" transform="matrix(-244 -161 161 -244 596 622)"/><use href="#k" transform="matrix(-112 -12 12 -112 596 622)"/>
<use href="#k" transform="matrix(-40 140 -140 -40 850 587)"/><use href="#k" transform="matrix(-228 -215 215 -228 850 587)"/>
<use href="#k" transform="matrix(78 14 -14 78 908 710)"/><use href="#k" transform="matrix(-114 -11 11 -114 1049 619)"/><use href="#k" transform="matrix(-568 -118 118 -568 1185 576)"/>
</g>
<g class="ep">
<use href="#k2" stroke-width="7" transform="matrix(-183 -5 5 -183 1000 195)"/><use href="#k" stroke-width="3" transform="matrix(378 -177 177 378 622 372)"/><use href="#k" stroke-width="4" transform="matrix(-383 263 -263 -383 1000 195)"/><use href="#k" stroke-width="2" transform="matrix(-317 303 -303 -317 1000 195)"/><use href="#k" transform="matrix(-39 266 -266 -39 1000 195)"/><use href="#k" transform="matrix(89 -19 19 89 1000 195)"/><use href="#k" stroke-width="4" transform="matrix(56 -11 11 56 1000 195)"/><use href="#k" stroke-width="2" transform="matrix(93 48 -48 93 1000 195)"/><use href="#k" transform="matrix(93 100 -100 93 1000 195)"/><use href="#k" transform="matrix(37 136 -136 37 1000 195)"/><use href="#k" transform="matrix(-122 149 -149 -122 1000 195)"/><use href="#k" transform="matrix(-190 532 -532 -190 1000 195)"/><use href="#k" transform="matrix(-648 266 -266 -648 1000 195)"/><use href="#k" transform="matrix(-623 -2 2 -623 1000 195)"/>
<use href="#k" transform="matrix(-472 282 -282 -472 1089 176)"/><use href="#k" transform="matrix(4 67 -67 4 1089 176)"/><use href="#k" transform="matrix(-467 196 -196 -467 1089 176)"/><use href="#k" transform="matrix(4 119 -119 4 1089 176)"/>
<use href="#k" transform="matrix(37 59 -59 37 1056 184)"/><use href="#k" transform="matrix(-439 274 -274 -439 1056 184)"/>
<use href="#k" transform="matrix(-476 215 -215 -476 1093 243)"/><use href="#k" transform="matrix(-410 255 -255 -410 1093 243)"/><use href="#k" transform="matrix(0 52 -52 0 1093 243)"/><use href="#k" transform="matrix(-471 129 -129 -471 1093 243)"/>
<use href="#k" transform="matrix(-132 166 -166 -132 1093 295)"/><use href="#k" transform="matrix(-476 163 -163 -476 1093 295)"/><use href="#k" transform="matrix(-410 203 -203 -410 1093 295)"/>
<use href="#k" transform="matrix(-420 127 -127 -420 1037 331)"/><use href="#k" transform="matrix(-415 41 -41 -415 1037 331)"/><use href="#k" transform="matrix(-354 167 -167 -354 1037 331)"/><use href="#k" transform="matrix(-76 130 -130 -76 1037 331)"/>
<use href="#k" transform="matrix(-261 114 -114 -261 878 344)"/><use href="#k" transform="matrix(-256 28 -28 -256 878 344)"/><use href="#k" transform="matrix(83 117 -117 83 878 344)"/><use href="#k" transform="matrix(-195 154 -154 -195 878 344)"/><use href="#k" transform="matrix(-441 -28 28 -441 878 344)"/>
<use href="#k" transform="matrix(-321 62 -62 -321 938 396)"/><use href="#k" transform="matrix(-316 -24 24 -316 938 396)"/><use href="#k" transform="matrix(-255 102 -102 -255 938 396)"/><use href="#k" transform="matrix(23 65 -65 23 938 396)"/>
<use href="#k" stroke-width="5" transform="matrix(344 3 -3 344 617 458)"/><use href="#k" stroke-width="3" transform="matrix(339 89 -89 339 622 372)"/><use href="#k" stroke-width="2" transform="matrix(-278 37 -37 -278 961 461)"/><use href="#k" transform="matrix(-151 266 -266 -151 961 461)"/><use href="#k" transform="matrix(44 50 -50 44 961 461)"/><use href="#k" transform="matrix(21 105 -105 21 961 461)"/><use href="#k" transform="matrix(25 263 -263 25 961 461)"/><use href="#k" transform="matrix(-524 -145 145 -524 961 461)"/>
<use href="#k" transform="matrix(-388 -53 53 -388 1005 511)"/><use href="#k" transform="matrix(-322 -13 13 -322 1005 511)"/><use href="#k" transform="matrix(-383 -139 139 -383 1005 511)"/>
<use href="#k" transform="matrix(-365 -108 108 -365 982 566)"/><use href="#k" transform="matrix(-299 -68 68 -299 982 566)"/><use href="#k" transform="matrix(-360 -194 194 -360 982 566)"/><use href="#k" transform="matrix(4 158 -158 4 982 566)"/>
<use href="#k" transform="matrix(-369 -266 266 -369 986 724)"/><use href="#k" transform="matrix(-303 -226 226 -303 986 724)"/><use href="#k" transform="matrix(-176 3 -3 -176 986 724)"/><use href="#k" transform="matrix(-33 -78 78 -33 986 724)"/><use href="#k" transform="matrix(-113 55 -55 -113 986 724)"/>
</g>
</g>
<g id="nodes" fill-opacity=".9">
<g id="n-cyan-1"><circle class="nc" cx="648" cy="535" r="15"/></g>
<g id="n-brown-1"><circle class="nn" cx="567" cy="511" r="17"/></g>
<g id="n-red-1"><circle class="nr" cx="571" cy="368" r="25"/></g>
<g id="n-syndemic"><circle class="nr" cx="622" cy="372" r="50"/><text class="l39" x="624" y="374">syndemic</text></g>
<g id="n-hiv"><circle class="ng" cx="617" cy="458" r="69" fill-opacity=".85"/><text class="l47" x="617" y="459">hiv</text></g>
<g id="n-hiv-aids"><circle class="ng" cx="683" cy="498" r="51" fill-opacity=".85"/><text class="l24" x="651" y="527">hiv/aids</text></g>
<g id="n-pink-1"><circle class="nk" cx="403" cy="443" r="25"/></g>
<g id="n-mental-health"><circle class="nb" cx="352" cy="461" r="25"/><text class="l26" x="350" y="461">mental health</text></g>
<g id="n-substance-use"><circle class="nr" cx="437" cy="316" r="23"/><text class="l26" x="443" y="315">substance use</text></g>
<g id="n-msm"><circle class="nb" cx="368" cy="393" r="18"/><text class="l22" x="369" y="394">msm</text></g>
<g id="n-violence"><circle class="ny" cx="143" cy="406" r="18"/><text class="l22" x="143" y="406">violence</text></g>
<g id="n-tuberculosis"><circle class="ng" cx="810" cy="727" r="19"/><text class="l24" x="813" y="727">tuberculosis</text></g>
<g id="n-red-2"><circle class="nr" cx="303" cy="178" r="13"/></g>
<g id="n-ipv"><circle class="nr" cx="377" cy="193" r="17"/><text class="l22" x="378" y="193" style="font-size:23px">intimate partner violence</text></g>
<g id="n-blue-1"><circle class="nb" cx="291" cy="488" r="15"/></g>
<g id="n-transgender"><circle class="nr" cx="404" cy="256" r="14"/><text class="l20" x="406" y="257">transgender</text></g>
<g id="n-covid-19"><circle class="np" cx="1000" cy="195" r="14"/><text class="l22" x="1000" y="195">covid-19</text></g>
<g id="n-diabetes"><circle class="np" cx="961" cy="461" r="13"/><text class="l20" x="961" y="460">diabetes</text></g>
<g id="n-women"><circle class="ny" cx="525" cy="246" r="13"/><text class="l20" x="526" y="246">women</text></g>
<g id="n-stigma"><circle class="nb" cx="484" cy="610" r="13"/><text class="l22" x="484" y="609">stigma</text></g>
<g id="n-blue-2"><circle class="nb" cx="438" cy="530" r="11"/></g>
<g id="n-resilience"><circle class="nb" cx="392" cy="530" r="13"/><text class="l24" x="428" y="530">resilience</text></g>
<g id="n-hiv-risk"><circle class="nb" cx="372" cy="620" r="12"/><text class="l20" x="372" y="620">hiv risk</text></g>
<g id="n-health-disparities"><circle class="nr" cx="707" cy="155" r="12"/><text class="l20" x="706" y="155">health disparities</text></g>
<g id="n-syndemic-theory"><circle class="nr" cx="682" cy="224" r="12"/><text class="l20" x="681" y="224">syndemic theory</text></g>
<g id="n-gay-and-bisexual-men"><circle class="nb" cx="368" cy="775" r="12"/><text class="l20" x="368" y="775">gay and bisexual men</text></g>
<g id="n-gay-men"><circle class="ny" cx="140" cy="612" r="12"/><text class="l20" x="140" y="612">gay men</text></g>
<g id="n-orange-1"><circle class="no" cx="684" cy="333" r="11"/></g>
<g id="n-red-3"><circle class="nr" cx="478" cy="273" r="11"/></g>
<g id="n-yellow-1"><circle class="ny" cx="78" cy="378" r="11"/></g>
<g id="n-public-health"><circle class="ng" cx="935" cy="608" r="11"/><text class="l20" x="939" y="609">public health</text></g>
<g id="n-comorbidity"><circle class="ng" cx="953" cy="646" r="10"/><text class="l20" x="957" y="646">comorbidity</text></g>
<g id="n-yellow-2"><circle class="ny" cx="238" cy="472" r="10"/></g>
<g id="n-food-insecurity"><circle class="nr" cx="817" cy="190" r="9"/><text class="l17" x="816" y="190">food insecurity</text></g>
<g id="n-green-1"><circle class="ng" cx="596" cy="622" r="9"/></g>
<g id="n-epidemiology"><circle class="ng" cx="878" cy="542" r="8"/><text class="l18" x="878" y="543">epidemiology</text></g>
<g id="n-injection-drug-use"><circle class="ng" cx="975" cy="318" r="8"/><text class="l18" x="975" y="318">injection drug use</text></g>
<g id="n-hcv"><circle class="nn" cx="834" cy="63" r="8"/><text class="l17" x="835" y="63">hcv</text></g>
<g id="n-brown-2"><circle class="nn" cx="596" cy="133" r="8"/></g>
<g id="n-purple-1"><circle class="np" cx="1037" cy="331" r="8"/></g>
<g id="n-adherence"><circle class="ng" cx="616" cy="752" r="8"/><text class="l17" x="616" y="752">adherence</text></g>
<g id="n-sexual-risk"><circle class="nr" cx="504" cy="127" r="7"/><text class="l17" x="504" y="127">sexual risk</text></g>
<g id="n-red-4"><circle class="nr" cx="271" cy="135" r="7"/></g>
<g id="n-red-5"><circle class="nr" cx="440" cy="186" r="7"/></g>
<g id="n-orange-2"><circle class="no" cx="545" cy="426" r="7"/></g>
<g id="n-yellow-3"><circle class="ny" cx="508" cy="364" r="7"/></g>
<g id="n-purple-2"><circle class="np" cx="878" cy="344" r="7"/></g>
<g id="n-alcohol"><circle class="ng" cx="555" cy="720" r="7"/><text class="l17" x="554" y="720">alcohol</text></g>
<g id="n-green-2"><circle class="ng" cx="693" cy="729" r="7"/></g>
<g id="n-antiretroviral-therapy"><circle class="ng" cx="667" cy="846" r="7"/><text class="l17" x="665" y="846">antiretroviral therapy</text></g>
<g id="n-blue-3"><circle class="nb" cx="296" cy="558" r="7"/></g>
<g id="n-social-determinants"><circle class="np" cx="986" cy="724" r="7"/><text class="l17" x="984" y="723">social determinants</text></g>
<g id="n-red-6"><circle class="nr" cx="614" cy="40" r="6"/></g>
<g id="n-health"><circle class="nr" cx="697" cy="34" r="6"/><text class="l17" x="697" y="34">health</text></g>
<g id="n-ymsm"><circle class="nr" cx="276" cy="50" r="6"/><text class="l17" x="275" y="50">ymsm</text></g>
<g id="n-red-7"><circle class="nr" cx="306" cy="320" r="6"/></g>
<g id="n-red-8"><circle class="nr" cx="715" cy="383" r="6"/></g>
<g id="n-red-9"><circle class="nr" cx="535" cy="305" r="6"/></g>
<g id="n-mental-illness"><circle class="no" cx="341" cy="112" r="6"/><text class="l17" x="340" y="112">mental illness</text></g>
<g id="n-orange-3"><circle class="no" cx="549" cy="195" r="6"/></g>
<g id="n-tb"><circle class="nn" cx="907" cy="35" r="6"/><text class="l17" x="908" y="35">tb</text></g>
<g id="n-purple-3"><circle class="np" cx="1056" cy="184" r="6"/></g>
<g id="n-sars-cov-2"><circle class="np" cx="1089" cy="176" r="5"/><text class="l17" x="1088" y="177">sars-cov-2</text></g>
<g id="n-malaria"><circle class="np" cx="1093" cy="243" r="6"/><text class="l17" x="1094" y="244">malaria</text></g>
<g id="n-purple-4"><circle class="np" cx="1093" cy="295" r="6"/></g>
<g id="n-purple-5"><circle class="np" cx="938" cy="396" r="6"/></g>
<g id="n-green-3"><circle class="ng" cx="850" cy="587" r="6"/></g>
<g id="n-green-4"><circle class="ng" cx="908" cy="710" r="6"/></g>
<g id="n-green-5"><circle class="ng" cx="1049" cy="619" r="6"/></g>
<g id="n-green-6"><circle class="ng" cx="1185" cy="576" r="6"/></g>
<g id="n-global-health"><circle class="ng" cx="1149" cy="592" r="6"/><text class="l17" x="1149" y="592">global health</text></g>
<g id="n-health-policy"><circle class="ng" cx="1141" cy="519" r="6"/><text class="l17" x="1143" y="518">health policy</text></g>
<g id="n-harm-reduction"><circle class="ng" cx="1097" cy="438" r="5"/><text class="l17" x="1099" y="438">harm reduction</text></g>
<g id="n-green-7"><circle class="ng" cx="766" cy="846" r="5"/></g>
<g id="n-yellow-4"><circle class="ny" cx="37" cy="655" r="6"/></g>
<g id="n-bisexual-men"><circle class="ny" cx="97" cy="641" r="4"/><text class="l17" x="100" y="640">bisexual men</text></g>
<g id="n-blue-4"><circle class="nb" cx="261" cy="746" r="6"/></g>
<g id="n-blue-5"><circle class="nb" cx="304" cy="793" r="6"/></g>
<g id="n-transgender-women"><circle class="nk" cx="226" cy="571" r="6"/><text class="l17" x="226" y="571">transgender women</text></g>
<g id="n-cyan-2"><circle class="nc" cx="775" cy="697" r="6"/></g>
<g id="n-gay"><circle class="nr" cx="273" cy="228" r="5"/><text class="l17" x="273" y="227">gay</text></g>
<g id="n-adolescents"><circle class="nr" cx="450" cy="19" r="5"/><text class="l17" x="452" y="19">adolescents</text></g>
<g id="n-latent-class-analysis"><circle class="nr" cx="423" cy="61" r="5"/><text class="l17" x="426" y="61">latent class analysis</text></g>
<g id="n-sexual-minority"><circle class="no" cx="211" cy="160" r="5"/><text class="l17" x="211" y="160">sexual minority</text></g>
<g id="n-qualitative"><circle class="no" cx="160" cy="228" r="5"/><text class="l17" x="161" y="227">qualitative</text></g>
<g id="n-network-analysis"><circle class="no" cx="749" cy="256" r="5"/><text class="l17" x="751" y="256">network analysis</text></g>
<g id="n-condom-use"><circle class="nk" cx="76" cy="268" r="5"/><text class="l17" x="77" y="268">condom use</text></g>
<g id="n-india"><circle class="nk" cx="241" cy="346" r="5"/><text class="l17" x="241" y="346">india</text></g>
<g id="n-sex-work"><circle class="ny" cx="292" cy="417" r="4"/><text class="l17" x="292" y="417">sex work</text></g>
<g id="n-hiv-testing"><circle class="ny" cx="152" cy="510" r="4"/><text class="l17" x="153" y="510">hiv testing</text></g>
<g id="n-homophobia"><circle class="ny" cx="73" cy="560" r="5"/><text class="l17" x="74" y="561">homophobia</text></g>
<g id="n-suicide"><circle class="ny" cx="38" cy="592" r="5"/><text class="l17" x="40" y="592">suicide</text></g>
<g id="n-black"><circle class="nc" cx="482" cy="464" r="5"/><text class="l17" x="482" y="464">black</text></g>
<g id="n-psychosocial"><circle class="nc" cx="820" cy="399" r="5"/><text class="l17" x="821" y="399">psychosocial</text></g>
<g id="n-african-american"><circle class="nc" cx="773" cy="507" r="4"/><text class="l17" x="775" y="506">african american</text></g>
<g id="n-hepatitis-c"><circle class="nc" cx="771" cy="765" r="4"/><text class="l17" x="773" y="764">hepatitis c</text></g>
<g id="n-surveillance"><circle class="nc" cx="873" cy="779" r="5"/><text class="l17" x="873" y="779">surveillance</text></g>
<g id="n-internet"><circle class="nb" cx="292" cy="707" r="5"/><text class="l17" x="294" y="707">internet</text></g>
<g id="n-aging"><circle class="nb" cx="395" cy="711" r="4"/><text class="l17" x="394" y="712">aging</text></g>
<g id="n-sexual-compulsivity"><circle class="nb" cx="469" cy="840" r="5"/><text class="l17" x="388" y="839">sexual compulsivity</text></g>
<g id="n-structural-equation-modeling"><circle class="nb" cx="410" cy="893" r="4"/><text class="l17" x="413" y="895">structural equation modeling</text></g>
<g id="n-chronic-disease"><circle class="np" cx="1005" cy="511" r="5"/><text class="l17" x="1006" y="511">chronic disease</text></g>
<g id="n-poverty"><circle class="np" cx="982" cy="566" r="5"/><text class="l17" x="982" y="566">poverty</text></g>
</g>
</svg>
